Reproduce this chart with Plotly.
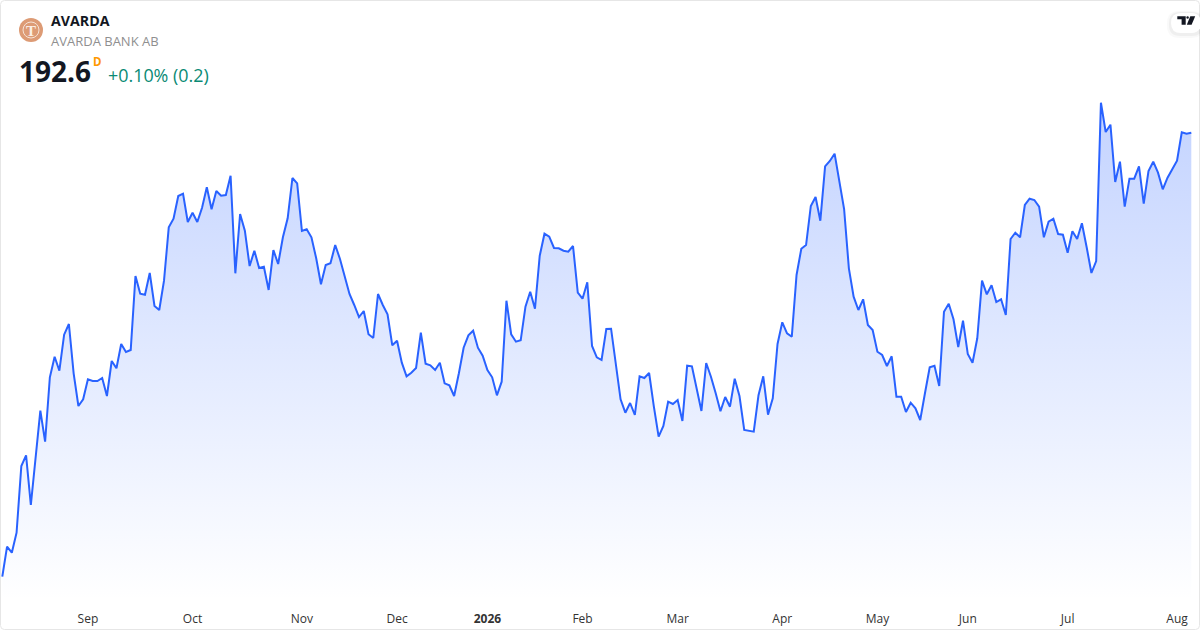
import plotly.graph_objects as go

# Daily closing price, one value per session
closes = [
103.80,109.80,108.60,112.60,125.94,128.08,118.14,127.80,137.00,130.80,
143.68,147.80,145.00,152.20,154.34,144.48,137.94,139.28,143.28,142.94,
142.94,143.54,139.94,146.94,145.48,150.34,148.74,149.14,163.94,160.40,
160.20,164.54,157.94,157.14,163.00,173.68,175.40,179.94,180.40,174.74,
176.60,174.74,177.60,181.68,177.28,180.94,180.00,180.14,184.00,164.48,
176.34,173.00,165.94,169.00,165.54,165.80,161.14,169.14,166.34,171.68,
175.48,183.54,182.48,172.94,173.28,171.68,167.48,162.28,166.14,166.48,
170.14,167.34,163.80,160.34,158.14,155.74,156.94,152.28,151.54,160.34,
158.14,156.28,150.08,151.00,146.60,143.88,144.60,145.54,152.60,146.40,
146.08,145.14,146.60,142.48,142.08,139.94,144.48,149.60,152.08,153.00,
149.60,148.00,145.14,143.68,140.08,142.80,159.00,152.28,150.80,151.08,
157.80,160.80,157.40,168.00,172.40,171.80,169.54,169.48,169.00,168.80,
169.94,160.60,159.40,162.68,149.94,147.68,147.14,153.34,153.40,145.80,
139.28,136.60,138.54,136.14,143.88,143.54,144.54,137.80,131.80,133.94,
138.80,138.34,139.14,134.94,146.00,145.88,141.48,136.94,146.54,143.80,
140.48,136.88,139.74,137.80,143.40,139.94,133.14,133.00,132.80,140.08,
143.88,136.20,139.48,150.34,154.68,152.48,151.80,164.14,169.40,170.14,
177.94,179.74,175.00,185.88,186.94,188.40,182.80,177.34,165.48,159.80,
157.14,159.28,154.14,153.14,148.80,148.14,145.94,147.88,139.80,139.80,
136.74,138.60,137.48,135.14,140.48,145.68,146.00,141.94,156.80,158.40,
155.28,149.74,155.00,148.34,146.60,151.48,163.00,160.28,162.08,158.74,
159.28,156.14,171.34,172.60,171.68,178.14,179.40,179.14,177.80,171.68,
174.80,175.40,172.34,172.20,168.60,172.88,171.34,174.48,169.68,164.54,
166.94,198.60,192.74,194.20,182.74,186.80,177.80,183.40,183.40,185.88,
178.40,184.94,186.80,184.60,181.28,183.60,185.28,187.00,192.68,192.40,
192.60,
]
sessions = list(range(len(closes)))

# Month labels and the session on which each month starts
tick_labels = ["Sep", "Oct", "Nov", "Dec", "<b>2026</b>", "Feb", "Mar", "Apr", "May", "Jun", "Jul", "Aug"]
tick_sessions = [18, 40, 63, 83, 102, 122, 142, 164, 184, 203, 224, 247]

W, H = 1200, 630
def fx(x): return x / W
def fy(y): return 1 - y / H

fig = go.Figure()
fig.add_trace(go.Scatter(
    x=sessions, y=closes, mode="lines",
    line=dict(color="#2962ff", width=2),
    fill="tozeroy",
    fillgradient=dict(
        type="vertical", start=99.14, stop=198.6,
        colorscale=[[0, "rgba(41,98,255,0.0)"], [1, "rgba(41,98,255,0.28)"]],
    ),
    hoverinfo="skip", showlegend=False,
))

def rounded(x0, y0, x1, y1, r):
    return (f"M{fx(x0+r)},{fy(y0)} L{fx(x1-r)},{fy(y0)} Q{fx(x1)},{fy(y0)} {fx(x1)},{fy(y0+r)} "
            f"L{fx(x1)},{fy(y1-r)} Q{fx(x1)},{fy(y1)} {fx(x1-r)},{fy(y1)} "
            f"L{fx(x0+r)},{fy(y1)} Q{fx(x0)},{fy(y1)} {fx(x0)},{fy(y1-r)} "
            f"L{fx(x0)},{fy(y0+r)} Q{fx(x0)},{fy(y0)} {fx(x0+r)},{fy(y0)} Z")

def poly(points):
    return "M" + " L".join(f"{fx(x)},{fy(y)}" for x, y in points) + " Z"

shapes = [
    # card border
    dict(type="path", path=rounded(0.5, 0.5, 1199.5, 629.5, 4), xref="paper", yref="paper",
         line=dict(color="#e6e6e6", width=1), fillcolor="rgba(0,0,0,0)", layer="above"),
    # soft shadow of the logo badge
    dict(type="path", path=rounded(1167, 11, 1204, 38, 12), xref="paper", yref="paper",
         line=dict(width=0), fillcolor="rgba(0,0,0,0.025)", layer="above"),
    dict(type="path", path=rounded(1169, 12, 1203, 36, 11), xref="paper", yref="paper",
         line=dict(width=0), fillcolor="rgba(0,0,0,0.04)", layer="above"),
    dict(type="path", path=rounded(1171, 13, 1201, 33, 10), xref="paper", yref="paper",
         line=dict(width=0), fillcolor="#ffffff", layer="above"),
    # TradingView mark
    dict(type="path", path=poly([(1177.3, 16.3), (1185.7, 16.3), (1185.7, 24.7), (1181.6, 24.7),
                                 (1181.6, 19.3), (1177.3, 19.3)]),
         xref="paper", yref="paper", line=dict(width=0), fillcolor="#131722", layer="above"),
    dict(type="circle", x0=fx(1186.4), x1=fx(1188.8), y0=fy(16.3), y1=fy(18.8),
         xref="paper", yref="paper", line=dict(width=0), fillcolor="#131722", layer="above"),
    dict(type="path", path=poly([(1190.3, 16.3), (1195.2, 16.3), (1191.6, 24.7), (1186.8, 24.7)]),
         xref="paper", yref="paper", line=dict(width=0), fillcolor="#131722", layer="above"),
    # round company logo
    dict(type="circle", x0=fx(19), x1=fx(43), y0=fy(18), y1=fy(42), xref="paper", yref="paper",
         line=dict(width=0), fillcolor="#dd9b75", layer="above"),
    dict(type="circle", x0=fx(23), x1=fx(39), y0=fy(22), y1=fy(38), xref="paper", yref="paper",
         line=dict(color="#f6e3d6", width=1), fillcolor="rgba(0,0,0,0)", layer="above"),
]

def label(x, y, text, size, color, family="Open Sans", bold=False, anchor="left"):
    return dict(
        x=fx(x), y=fy(y), xref="paper", yref="paper", xanchor=anchor, yanchor="middle",
        text=f"<b>{text}</b>" if bold else text, showarrow=False,
        font=dict(size=size, color=color, family=family), borderpad=0, borderwidth=0,
    )

annotations = [
    label(51, 21, "AVARDA", 14.2, "#131722", bold=True),
    label(51, 41, "AVARDA BANK AB", 13, "#8f8f8f"),
    label(19, 71, "192.6", 28, "#131722", bold=True),
    label(93, 61.5, "D", 11.5, "#ff9800", bold=True),
    label(108, 74.5, "+0.10% (0.2)", 17.9, "#0a8a74"),
    label(31, 30.5, "T", 15, "#fbeee5", family="Liberation Serif", bold=True, anchor="center"),
]

fig.update_layout(
    width=W, height=H,
    margin=dict(l=0, r=0, t=0, b=0),
    paper_bgcolor="#ffffff", plot_bgcolor="#ffffff",
    shapes=shapes, annotations=annotations, showlegend=False,
    font=dict(family="Open Sans"),
    xaxis=dict(
        domain=[0, 1], range=[-0.484, 251.83],
        tickmode="array", tickvals=tick_sessions, ticktext=tick_labels,
        showgrid=False, zeroline=False, showline=False,
        ticks="outside", ticklen=8, tickcolor="rgba(0,0,0,0)",
        tickfont=dict(size=12, color="#333333", family="Open Sans"),
    ),
    yaxis=dict(
        domain=[30 / H, 1], range=[99.14, 219.14],
        visible=False, showgrid=False, zeroline=False,
    ),
)

fig.write_html("out.html", config={"displayModeBar": False},
               post_script="document.body.style.margin='0';")
